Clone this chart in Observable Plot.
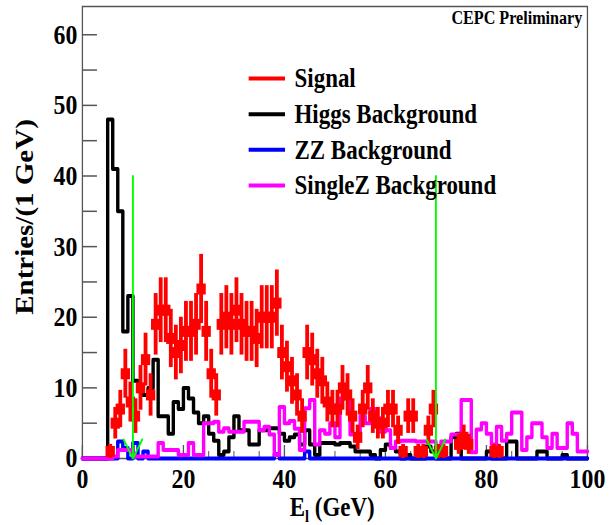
<!DOCTYPE html>
<html><head><meta charset="utf-8">
<script src="https://cdn.jsdelivr.net/npm/d3@7"></script>
<script src="https://cdn.jsdelivr.net/npm/@observablehq/plot@0.6"></script>
<style>
html,body{margin:0;padding:0;background:#fff;}
#chart{width:616px;height:525px;overflow:hidden;}
</style></head><body><div id="chart"></div>
<script>
// ---- data (1 GeV bins, index = lower bin edge in GeV) ----
const signal = [0,0,0,0,0,1,5,7,12,8, 6,10,14,9,19,21,21,17,15,16, 18,18,19,24,18,12,9,19,20,19, 21,19,18,18,17,20,20,20,22,15,
  13,11,9,6,15,14,12,11,8,7, 7,10,9,6,3,7,10,6,5,5, 7,7,4,1,6,6,1,1,4,7, 1,1,0,0,2,3,2,0,0,0, 0,1,1,0,0,0,0,0,0,0, 0,0,0,0,0,0,0,0,0,0];
const higgsBkg = [0,0,0,0,0,48,41,35,18,23, 11,10,9,10,14,6,6,3.5,8,7, 10,8.5,6.5,5,6,3.5,2.5,0.5,1,3, 6,4,4,2,2,4,4,4.3,4.3,3.5,
  2.5,3,3.4,2,4,2,0.5,2.2,2.2,2.2, 2,2.2,2.2,1.7,1,1,1,0.5,0,1.2, 2,1.5,1,0,0.5,0,0,0,1.7,1, 0,0,0,3,3.5,0,0,0,0,0, 1,0,0,0,2.4,2.4,0,0,0,0, 1,1,0,0,0,0.5,0,0,0,0];
const zzBkg = [0,0,0,0,0,0,0,2.4,1.5,0, 2.2,0,1,0,0,0,0,0,0,0, 0,0,0,0,0,0,0,0,0,0, 0,0,0,0,0,0,0,0,0.6,0,
  0,0,0,0,1,0,0,0,0,0, 0,0,0,0,0,0,0,0,0,0, 0,0,0,0,0,0,0,0,0,0, 0,0,0,0,0,0,0,0,0,0, 0,0,0,0,0,0,0,0,0,0, 0,0,0,0,0,0,0,0,0,0];
const singleZBkg = [0,0,0,0,0,0,0.3,1.2,1.2,1.2, 0.3,0.3,0.3,0.3,0.3,2.2,1.2,1.2,1.2,0.5, 0.5,2.2,0.5,0.5,5,5,5.2,3.8,4.3,3.8, 3.8,3.8,5.2,5.2,5.2,4,4.5,3.4,0.5,7.3,
  5,5.3,4.2,1.2,7.1,8.3,2,4,3.5,5, 3,8.5,8.5,3.4,3.4,6,5,7,5.7,3.8, 4,1.5,2.4,2.5,2.5,2.5,2.4,2.4,2.4,2.4, 1.5,2.4,2.4,3.4,3.4,8.3,8.3,0.9,4.1,5,
  3.5,2,4.5,2.5,3.5,6.5,6.5,1.2,3,5, 5,3,1.5,3.5,1.5,1.5,5,3.5,1,1];
const cutValues = [10, 70];      // green arrows (GeV)
const cutArrowTop = 40;
const legendNames = ["Signal", "Higgs Background", "ZZ Background", "SingleZ Background"];
const legendColors = ["#ff0000", "#000000", "#0000ff", "#ff00ff"];
const xTicks = [0, 20, 40, 60, 80, 100];
const xMinorTicks = [0,5,10,15,20,25,30,35,40,45,50,55,60,65,70,75,80,85,90,95,100];
const yTicks = [0, 10, 20, 30, 40, 50, 60];
const yMinorTicks = [0,5,10,15,20,25,30,35,40,45,50,55,60];

// ---- build ----
const nBins = signal.length;
const binLow = Array.from({length: nBins}, (_, i) => i);
function stepPoints(vals) {
  const pts = binLow.map(i => ({x: i, y: vals[i]}));
  pts.push({x: nBins, y: vals[nBins - 1]});
  return pts;
}
const sigPts = binLow.filter(i => signal[i] > 0).map(i => ({x: i, s: signal[i], e: Math.sqrt(signal[i])}));
const legend = legendNames.map((name, i) => ({name, color: legendColors[i], y: 53.8 - 5.05 * i}));

const W = 725, H = 525;          // drawn 725 wide, squeezed to 616 like the original image
const mL = 96.5, mR = 34.1, mT = 6, mB = 67;
const innerW = W - mL - mR, innerH = H - mT - mB;
const fam = "'Liberation Serif','Times New Roman',serif";
const lw = 4;

const plot = Plot.plot({
  width: W, height: H,
  marginLeft: mL, marginRight: mR, marginTop: mT, marginBottom: mB,
  x: {domain: [0, 100]},
  y: {domain: [0, 64]},
  color: {type: "identity"},
  style: {fontFamily: fam, fontWeight: "bold", fontSize: "28px", background: "#fff", color: "#000"},
  marks: [
    Plot.frame({stroke: "#555", strokeWidth: 1.5}),
    Plot.tickY(yMinorTicks, {y: d => d, stroke: "#555", strokeWidth: 1.5, insetRight: innerW - 17.6}),
    Plot.tickX(xMinorTicks, {x: d => d, stroke: "#555", strokeWidth: 1.2, insetTop: innerH - 7}),
    Plot.tickX(xTicks, {x: d => d, stroke: "#555", strokeWidth: 1.5, insetTop: innerH - 13}),
    Plot.axisY(yTicks, {tickSize: 0, tickPadding: 6, fontSize: 28, fontWeight: "bold", label: null}),
    Plot.axisX(xTicks, {tickSize: 0, tickPadding: 10, fontSize: 28, fontWeight: "bold", label: null}),
    Plot.line(stepPoints(higgsBkg), {x: "x", y: "y", curve: "step-after", stroke: "#000000", strokeWidth: lw}),
    Plot.line(stepPoints(zzBkg), {x: "x", y: "y", curve: "step-after", stroke: "#0000ff", strokeWidth: lw}),
    Plot.line(stepPoints(singleZBkg), {x: "x", y: "y", curve: "step-after", stroke: "#ff00ff", strokeWidth: lw}),
    Plot.ruleX(sigPts, {x: d => d.x + 0.5, y1: d => d.s - d.e, y2: d => d.s + d.e, stroke: "#ff0000", strokeWidth: 4.5}),
    Plot.ruleY(sigPts, {y: "s", x1: "x", x2: d => d.x + 1, stroke: "#ff0000", strokeWidth: 4.5}),
    Plot.dot(sigPts, {x: d => d.x + 0.5, y: "s", r: 6.2, symbol: "square", fill: "#ff0000", stroke: "none"}),
    Plot.arrow(cutValues, {x1: d => d, x2: d => d, y1: cutArrowTop, y2: 0, stroke: "#00ff00", strokeWidth: 2.2, headLength: 15, headAngle: 60}),
    Plot.ruleY(legend, {y: "y", x1: 33, x2: 40.2, stroke: "color", strokeWidth: lw}),
    Plot.text(legend, {y: "y", x: 42, text: "name", textAnchor: "start", fontSize: 27, fontWeight: "bold"}),
    Plot.text(["CEPC Preliminary"], {frameAnchor: "top-right", dx: -6, dy: 4, textAnchor: "end", lineAnchor: "top", fontSize: 19, fontWeight: "bold"})
  ]
});

const svg = d3.select(plot);
// axis titles
svg.append("text")
  .attr("transform", "translate(29,217) rotate(-90)")
  .attr("text-anchor", "middle").attr("dominant-baseline", "central")
  .attr("font-family", fam).attr("font-weight", "bold").attr("font-size", 29)
  .text("Entries/(1 GeV)");
const xt = svg.append("text")
  .attr("x", 391).attr("y", 516)
  .attr("text-anchor", "middle")
  .attr("font-family", fam).attr("font-weight", "bold").attr("font-size", 27);
xt.append("tspan").text("E");
xt.append("tspan").attr("font-size", 17).attr("dy", 6).text("l");
xt.append("tspan").attr("dy", -6).text(" (GeV)");

// reproduce the horizontally squeezed original
plot.setAttribute("viewBox", `0 0 ${W} ${H}`);
plot.setAttribute("width", 616);
plot.setAttribute("height", 525);
plot.setAttribute("preserveAspectRatio", "none");
plot.style.width = "616px";
plot.style.height = "525px";
plot.style.maxWidth = "none";
document.getElementById("chart").appendChild(plot);
</script></body></html>
